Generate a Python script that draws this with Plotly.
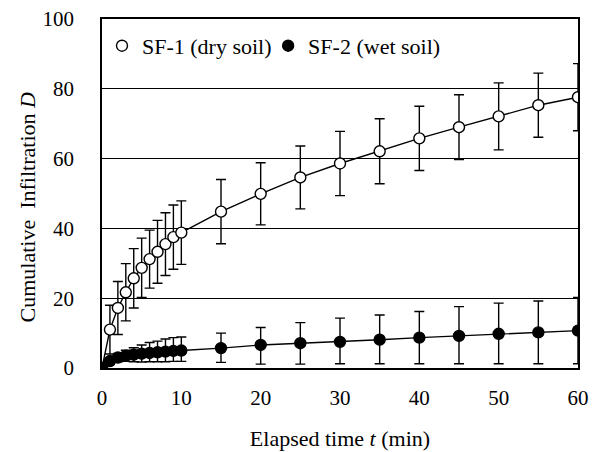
import plotly.graph_objects as go

# Elapsed time (min)
time_min = [0, 1, 2, 3, 4, 5, 6, 7, 8, 9, 10, 15, 20, 25, 30, 35, 40, 45, 50, 55, 60]

# SF-1 (dry soil)
sf1_D = [0, 11.0, 17.2, 21.7, 25.7, 28.7, 31.2, 33.3, 35.5, 37.5, 38.8,
         44.8, 49.9, 54.6, 58.6, 62.1, 65.8, 69.0, 72.1, 75.3, 77.6]
sf1_err = [0, 7.0, 7.6, 8.2, 8.5, 8.5, 8.3, 9.0, 9.0, 9.2, 9.1,
           9.2, 8.9, 9.0, 9.2, 9.3, 9.2, 9.3, 9.6, 9.2, 9.6]

# SF-2 (wet soil)
sf2_D = [0, 2.0, 3.0, 3.5, 3.8, 4.1, 4.3, 4.5, 4.7, 4.9, 5.0,
         5.7, 6.6, 7.1, 7.5, 8.1, 8.7, 9.2, 9.8, 10.2, 10.7]
sf2_err_plus = [0, 0.8, 1.2, 1.6, 2.0, 2.5, 3.0, 3.2, 3.6, 3.8, 3.9,
                4.3, 5.0, 5.9, 6.8, 7.1, 7.5, 8.4, 8.8, 9.0, 9.5]
sf2_err_minus = [0, 0.8, 1.2, 1.6, 2.0, 2.4, 2.5, 2.7, 2.9, 3.0, 3.1,
                 4.1, 5.5, 6.0, 6.3, 6.9, 7.5, 8.0, 8.6, 9.0, 9.5]

x_ticks = [0, 10, 20, 30, 40, 50, 60]
y_ticks = [0, 20, 40, 60, 80, 100]

FONT = "Liberation Serif, Times New Roman, serif"
FS_TICK = 21
FS_TXT = 22

fig = go.Figure()

fig.add_trace(go.Scatter(x=time_min, y=sf1_D, mode="lines",
                         line=dict(color="black", width=1.4),
                         showlegend=False, hoverinfo="skip"))
fig.add_trace(go.Scatter(x=time_min, y=sf1_D, mode="markers", name="SF-1 (dry soil)",
                         legend="legend",
                         marker=dict(symbol="circle", size=11, color="white",
                                     line=dict(color="black", width=1.4)),
                         error_y=dict(type="data", array=sf1_err, visible=True,
                                      color="black", thickness=1.4, width=5)))
fig.add_trace(go.Scatter(x=time_min, y=sf2_D, mode="lines",
                         line=dict(color="black", width=1.4),
                         showlegend=False, hoverinfo="skip"))
fig.add_trace(go.Scatter(x=time_min, y=sf2_D, mode="markers", name="SF-2 (wet soil)",
                         legend="legend2",
                         marker=dict(symbol="circle", size=11, color="black",
                                     line=dict(color="black", width=1.4)),
                         error_y=dict(type="data", array=sf2_err_plus,
                                      arrayminus=sf2_err_minus, symmetric=False,
                                      visible=True, color="black", thickness=1.4, width=5)))

legend_style = dict(orientation="h", y=0.983, xanchor="left", yanchor="top",
                    bgcolor="rgba(0,0,0,0)", font=dict(family=FONT, size=FS_TXT),
                    itemwidth=30)

fig.update_layout(
    width=600, height=452,
    margin=dict(l=102, r=22, t=19, b=84),
    paper_bgcolor="white", plot_bgcolor="white",
    font=dict(family=FONT, size=FS_TXT, color="black"),
    showlegend=True,
    legend=dict(x=0.0, **legend_style),
    legend2=dict(x=0.349, **legend_style),
    annotations=[dict(text="Cumulative  Infiltration <i>D</i>", textangle=-90,
                      xref="paper", yref="paper", x=0, y=0.46,
                      xanchor="center", yanchor="middle", xshift=-75, showarrow=False,
                      font=dict(family=FONT, size=FS_TXT))],
)
fig.update_xaxes(range=[0, 60], tickvals=x_ticks, ticks="", showgrid=False,
                 zeroline=False, showline=True, linecolor="black", linewidth=1.5,
                 mirror=True, tickfont=dict(family=FONT, size=FS_TICK),
                 ticklabelstandoff=10, automargin=False,
                 title=dict(text="Elapsed time <i>t</i> (min)", standoff=22,
                            font=dict(family=FONT, size=FS_TXT)))
fig.update_yaxes(range=[0, 100], tickvals=y_ticks, ticks="", showgrid=True,
                 gridcolor="black", gridwidth=1.2, zeroline=False, showline=True,
                 linecolor="black", linewidth=1.5, mirror=True, automargin=False,
                 tickfont=dict(family=FONT, size=FS_TICK), ticklabelstandoff=22)

fig.write_html("out.html", config={"displayModeBar": False},
               post_script="document.body.style.margin='0';")
